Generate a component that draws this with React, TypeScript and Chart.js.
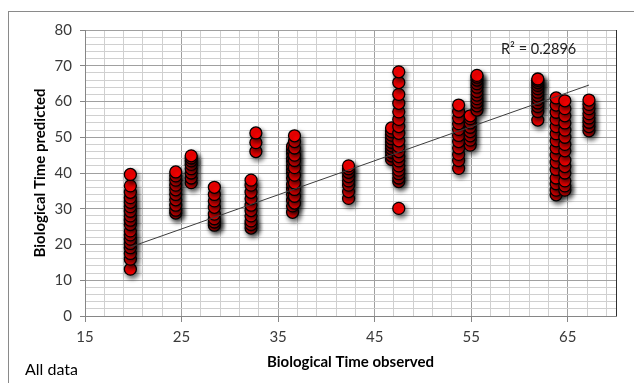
import React, { useEffect, useRef } from "react";
import { Chart, registerables } from "chart.js";

Chart.register(...registerables);

// Observed biological time for each vertical group of points
const observedGroups: number[] = [
  19.7, 24.4, 26.0, 28.4, 32.2, 32.7, 36.5, 36.7, 42.3, 46.75, 47.5, 53.7, 54.9, 55.6, 61.9, 63.8, 64.7, 67.2,
];

// Predicted biological time for each group (same order as observedGroups)
const predictedGroups: number[][] = [
  [13.1, 15.9, 17.5, 19.1, 20.3, 21.5, 22.7, 23.8, 25.6, 26.8, 28.0, 29.3, 30.6, 31.8, 33.1, 34.6, 36.4, 39.6],
  [28.8, 29.6, 31.0, 32.5, 34.0, 35.3, 36.6, 38.0, 39.2, 40.3],
  [37.3, 38.6, 40.0, 41.2, 42.4, 43.4, 44.2, 44.8],
  [25.4, 26.3, 27.2, 28.5, 30.4, 32.2, 34.0, 36.0],
  [24.6, 25.6, 26.6, 28.0, 29.5, 31.0, 32.8, 34.6, 36.6, 38.0],
  [46.0, 48.5, 51.2],
  [29.0, 30.8, 32.4, 34.0, 35.5, 36.8, 38.6, 40.0, 41.0, 42.0, 43.2, 44.2, 45.4, 46.4, 47.4],
  [31.6, 33.5, 35.4, 37.2, 39.4, 41.5, 43.5, 45.0, 47.0, 48.8, 50.4],
  [32.9, 34.8, 36.6, 37.8, 39.0, 40.2, 41.2, 42.0],
  [43.8, 44.8, 45.8, 46.8, 47.6, 48.6, 49.6, 50.6, 51.6, 52.6],
  [30.1, 37.6, 38.6, 39.8, 40.8, 42.0, 43.4, 44.6, 46.0, 47.4, 49.0, 51.1, 53.0, 55.0, 57.1, 59.5, 62.0, 65.3, 68.3],
  [41.3, 43.5, 45.2, 47.0, 48.8, 50.5, 52.2, 53.8, 55.4, 57.2, 59.0],
  [47.8, 49.2, 50.4, 51.6, 52.8, 54.0, 55.2, 56.0],
  [57.6, 58.8, 59.8, 60.8, 61.8, 62.8, 64.0, 65.0, 66.0, 66.8, 67.3],
  [54.8, 57.2, 58.6, 59.6, 60.6, 61.6, 62.6, 63.6, 64.5, 65.3, 65.9, 66.3],
  [33.9, 35.2, 37.0, 38.6, 41.0, 43.0, 45.0, 47.0, 49.0, 51.0, 53.0, 55.0, 57.0, 59.0, 61.0],
  [35.2, 36.4, 37.8, 40.0, 41.8, 43.6, 46.2, 48.0, 50.0, 52.0, 54.0, 56.0, 58.0, 60.2],
  [51.8, 53.0, 54.2, 55.4, 56.6, 58.0, 59.2, 60.4],
];

// Linear trendline end points
const trendX: number[] = [19.7, 67.2];
const trendY: number[] = [19.3, 64.6];

// Axis ticks (gridlines) and labels
const xTickValues: number[] = [15, 17, 19, 21, 23, 25, 27, 29, 31, 33, 35, 37, 39, 41, 43, 45, 47, 49, 51, 53, 55, 57, 59, 61, 63, 65, 67, 69, 70];
const xLabelValues: number[] = [15, 25, 35, 45, 55, 65];
const yTickValues: number[] = [0, 2, 4, 6, 8, 10, 12, 14, 16, 18, 20, 22, 24, 26, 28, 30, 32, 34, 36, 38, 40, 42, 44, 46, 48, 50, 52, 54, 56, 58, 60, 62, 64, 66, 68, 70, 72, 74, 76, 78, 80];
const yLabelValues: number[] = [0, 10, 20, 30, 40, 50, 60, 70, 80];

const xTitle = "Biological Time observed";
const yTitle = "Biological Time predicted";
const r2Label = "R² = 0.2896";
const noteLabel = "All data";

const FONT = "Lato, 'Open Sans', sans-serif";

const shadowPlugin = {
  id: "pointShadow",
  beforeDatasetDraw(chart: any, args: any) {
    if (args.index !== 1) return;
    const ctx = chart.ctx;
    ctx.save();
    ctx.shadowColor = "rgba(0,0,0,0.6)";
    ctx.shadowBlur = 5;
    ctx.shadowOffsetX = 2;
    ctx.shadowOffsetY = 3;
  },
  afterDatasetDraw(chart: any, args: any) {
    if (args.index !== 1) return;
    chart.ctx.restore();
  },
};

export default function App() {
  const canvasRef = useRef<HTMLCanvasElement | null>(null);

  useEffect(() => {
    if (!canvasRef.current) return;
    const points: { x: number; y: number }[] = [];
    observedGroups.forEach((ox, i) => {
      predictedGroups[i].forEach((py) => points.push({ x: ox, y: py }));
    });
    const trend = trendX.map((x, i) => ({ x, y: trendY[i] }));

    const majorGrid = "#a0a0a0";
    const minorGrid = "#d0d0d0";
    const axisColor = "#868686";

    const chart = new Chart(canvasRef.current, {
      type: "scatter",
      data: {
        datasets: [
          {
            type: "line",
            data: trend,
            borderColor: "#3c3c3c",
            borderWidth: 1,
            pointRadius: 0,
            fill: false,
          } as any,
          {
            data: points,
            backgroundColor: "#ff0000",
            borderColor: "#000000",
            borderWidth: 1.3,
            pointRadius: 6,
          },
        ],
      },
      options: {
        animation: false,
        responsive: true,
        maintainAspectRatio: false,
        layout: { padding: { left: 0, top: 18, right: 18, bottom: 0 } },
        plugins: { legend: { display: false }, tooltip: { enabled: false } },
        scales: {
          x: {
            type: "linear",
            min: 15,
            max: 70,
            afterBuildTicks: (scale: any) => {
              scale.ticks = xTickValues.map((v) => ({ value: v }));
            },
            afterFit: (scale: any) => {
              scale.height = 67;
            },
            ticks: {
              autoSkip: false,
              maxRotation: 0,
              padding: 6,
              color: "#3a3a3a",
              font: { family: FONT, size: 15 },
              callback: (v: any) => (xLabelValues.includes(Number(v)) ? String(v) : ""),
            },
            grid: {
              tickLength: 6,
              color: (c: any) =>
                c.tick && c.tick.value === 70
                  ? "#303030"
                  : c.tick && xLabelValues.includes(c.tick.value)
                  ? majorGrid
                  : minorGrid,
              tickColor: (c: any) => (c.tick && xLabelValues.includes(c.tick.value) ? axisColor : "rgba(0,0,0,0)"),
            },
            border: { display: true, color: axisColor, width: 1 },
            title: {
              display: true,
              text: xTitle,
              color: "#000000",
              font: { family: FONT, size: 15, weight: "bold" },
              padding: { top: 0, bottom: 12 },
            },
          },
          y: {
            type: "linear",
            min: 0,
            max: 80,
            afterBuildTicks: (scale: any) => {
              scale.ticks = yTickValues.map((v) => ({ value: v }));
            },
            afterFit: (scale: any) => {
              scale.width = 76;
            },
            ticks: {
              autoSkip: false,
              padding: 8,
              color: "#3a3a3a",
              font: { family: FONT, size: 15 },
              callback: (v: any) => (yLabelValues.includes(Number(v)) ? String(v) : ""),
            },
            grid: {
              tickLength: 5,
              color: (c: any) => (c.tick && yLabelValues.includes(c.tick.value) ? majorGrid : minorGrid),
              tickColor: (c: any) => (c.tick && yLabelValues.includes(c.tick.value) ? axisColor : "rgba(0,0,0,0)"),
            },
            border: { display: true, color: axisColor, width: 1 },
            title: {
              display: true,
              text: yTitle,
              color: "#000000",
              font: { family: FONT, size: 15, weight: "bold" },
              padding: { top: 22, bottom: 0 },
            },
          },
        },
      },
      plugins: [shadowPlugin],
    });
    return () => chart.destroy();
  }, []);

  return (
    <div
      style={{
        position: "absolute",
        left: 8,
        top: 11,
        width: 626,
        height: 372,
        borderTop: "1px solid #8a8a8a",
        borderLeft: "1px solid #8a8a8a",
        boxSizing: "border-box",
        background: "#ffffff",
        overflow: "hidden",
      }}
    >
      <div style={{ position: "absolute", left: 0, top: 0, width: 625, height: 371 }}>
        <canvas ref={canvasRef} />
      </div>
      <div
        style={{
          position: "absolute",
          left: 492,
          top: 28,
          fontFamily: FONT,
          fontSize: 14.5,
          color: "#202020",
          whiteSpace: "nowrap",
          lineHeight: "17px",
        }}
      >
        {r2Label}
      </div>
      <div
        style={{
          position: "absolute",
          left: 16,
          top: 347,
          fontFamily: FONT,
          fontSize: 16,
          color: "#000000",
          whiteSpace: "nowrap",
          lineHeight: "19px",
        }}
      >
        {noteLabel}
      </div>
    </div>
  );
}
